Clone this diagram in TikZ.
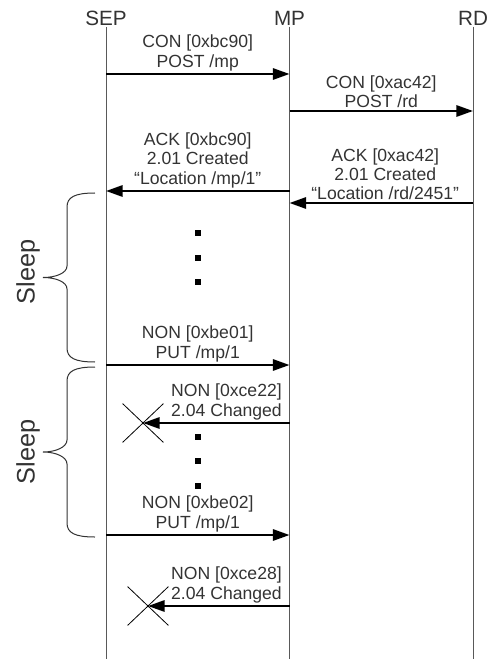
\documentclass[tikz,border=0pt]{standalone}
\usepackage{fontspec}
\setmainfont{Liberation Sans}
\usetikzlibrary{arrows.meta,shapes.misc,positioning}
\tikzset{
  life/.style={draw=black!65, line width=0.75pt},
  msg/.style={line width=1.6pt, -{Triangle[length=12.5pt,width=8.5pt]}},
  lbl/.style={anchor=south, align=center, inner sep=0pt, text=black!80,
    font=\fontsize{13.2}{14.5}\selectfont},
  rlbl/.style={lbl, anchor=south east, align=right},
  actor/.style={text=black!80, font=\fontsize{15.5}{17}\selectfont, inner sep=1pt},
  lost/.style={draw, cross out, line width=0.6pt, minimum width=30pt,
    minimum height=28.5pt, inner sep=0pt},
  pausedot/.style={fill, minimum size=4.5pt, inner sep=0pt},
  sleepbrace/.style={draw=black!80, line width=0.75pt},
  sleeplbl/.style={rotate=90, text=black!80, font=\fontsize{19}{21}\selectfont},
}
\begin{document}
\begin{tikzpicture}[x=0.75pt, y=-0.75pt]
  \useasboundingbox (0,0) rectangle (487,659);

  % lifelines
  \node[actor] (sep) at (106,18) {SEP};
  \node[actor] (mp) at (289.5,18) {MP};
  \node[actor] (rd) at (473,18) {RD};
  \coordinate (sepbot) at (106,659);
  \coordinate (mpbot) at (289.5,659);
  \coordinate (rdbot) at (473,659);
  \draw[life] (sep.south) -- (sepbot);
  \draw[life] (mp.south) -- (mpbot);
  \draw[life] (rd.south) -- (rdbot);

  % registration
  \coordinate (s1) at (106,74);  \coordinate (m1) at (289.5,74);
  \coordinate (m2) at (289.5,111); \coordinate (r2) at (473,111);
  \coordinate (m3) at (289.5,191); \coordinate (s3) at (106,191);
  \coordinate (r4) at (473,203); \coordinate (m4) at (289.5,203);

  \draw[msg] (s1) -- (m1) node[lbl, midway, above=1.5pt] {CON [0xbc90]\\POST /mp};
  \draw[msg] (m2) -- (r2) node[lbl, midway, above=1.5pt] {CON [0xac42]\\POST /rd};
  \draw[msg] (m3) -- (s3) node[lbl, midway, above=1.5pt] {ACK [0xbc90]\\2.01 Created\\“Location /mp/1”};
  \draw[msg] (r4) -- (m4) node[lbl, midway, above=1.5pt, xshift=3pt] {ACK [0xac42]\\2.01 Created\\“Location /rd/2451”};

  % first sleep
  \draw[sleepbrace] (95,193) .. controls (75,193) and (67,197) .. (67,207)
    -- (67,266) .. controls (67,273) and (56,277.5) .. (43,277.5)
    .. controls (56,277.5) and (67,282) .. (67,289)
    -- (67,348) .. controls (67,358) and (75,362) .. (95,362);
  \node[sleeplbl] (sleep1) at (28,272) {Sleep};
  \foreach \y in {233,258,282}
    \node[pausedot] (dotA-\y) at (198,\y) {};

  \coordinate (s5) at (106,365); \coordinate (m5) at (289.5,365);
  \draw[msg] (s5) -- (m5) node[lbl, midway, above=1.5pt] {NON [0xbe01]\\PUT /mp/1};

  % second sleep
  \draw[sleepbrace] (95,367) .. controls (75,367) and (67,371) .. (67,381)
    -- (67,440) .. controls (67,447) and (56,452) .. (43,452)
    .. controls (56,452) and (67,457) .. (67,464)
    -- (67,523) .. controls (67,533) and (75,537) .. (95,537);
  \node[sleeplbl] (sleep2) at (28,452) {Sleep};

  \coordinate (m6) at (289.5,423);
  \node[lost] (x1) at (143,423) {};
  \draw[msg] (m6) -- (x1.center) node[rlbl, pos=0, above left=1.5pt and 5pt] {NON [0xce22]\\2.04 Changed};
  \foreach \y in {437,461,486}
    \node[pausedot] (dotB-\y) at (198,\y) {};

  \coordinate (s7) at (106,535); \coordinate (m7) at (289.5,535);
  \draw[msg] (s7) -- (m7) node[lbl, midway, above=1.5pt] {NON [0xbe02]\\PUT /mp/1};

  \coordinate (m8) at (289.5,606);
  \node[lost] (x2) at (148,606) {};
  \draw[msg] (m8) -- (x2.center) node[rlbl, pos=0, above left=1.5pt and 5pt] {NON [0xce28]\\2.04 Changed};
\end{tikzpicture}
\end{document}
